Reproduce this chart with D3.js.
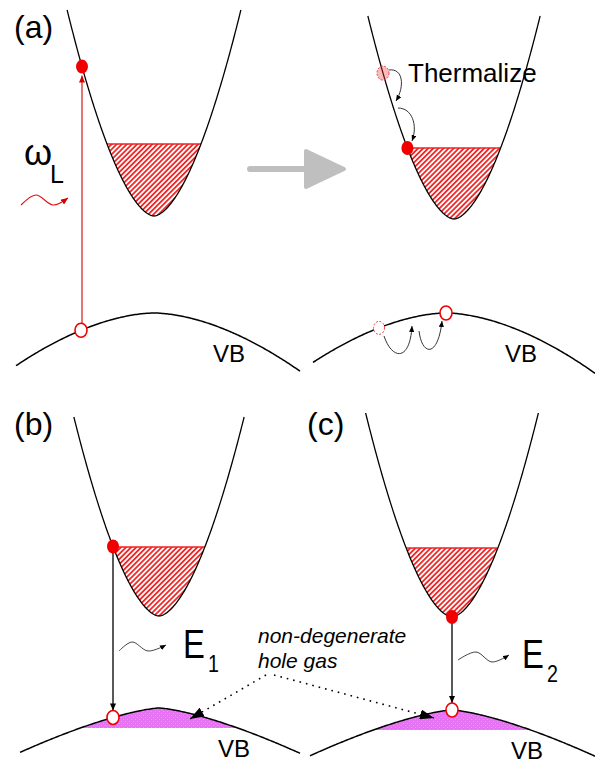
<!DOCTYPE html>
<html>
<head>
<meta charset="utf-8">
<script src="https://cdn.jsdelivr.net/npm/d3@7"></script>
<style>
  body { margin: 0; background: #fff; }
  text { font-family: "Liberation Sans", Arial, sans-serif; }
</style>
</head>
<body>
<div id="chart"></div>
<script>
// Band diagram values: energy with VB maximum = 0, momentum k in arbitrary units
const panelIds   = ['a1', 'a2', 'b', 'c'];
const bandGap    = [0.97, 0.94, 0.92, 0.93];
const cbTopE     = [3.03, 2.97, 2.91, 2.97];
const fermiFill  = [0.72, 0.71, 0.69, 0.69];      // electron fill above CB minimum
const vbKRange   = [[-1.38, 1.46], [-1.33, 1.49], [-1.39, 1.41], [-1.42, 1.43]];
const vbShiftK   = [0, -0.08, 0, 0];
const vbCurv     = [0.30, 0.30, 0.28, 0.28];
const vbPow      = [1.75, 1.75, 1.4, 1.4];
const holeFill   = [0, 0, 0.20, 0.20];            // hole gas depth below VB max
const electronK  = [-0.72, -0.466, -0.46, 0];
const holeK      = [-0.73, 0, -0.46, 0];           // relative to VB peak
const ghostElectronK = -0.71;                      // panel a2, before thermalizing
const ghostHoleK     = -0.67;
const cbCurv = 2.62, cbPow = 1.71;

// panel placement
const layout = {
    a1: { cx: 154, vbTop: 313 },
    a2: { cx: 454, vbTop: 313 },
    b:  { cx: 159, vbTop: 708 },
    c:  { cx: 452, vbTop: 710 }
};

const width = 595, height = 763;
const svg = d3.select('#chart').append('svg')
    .attr('width', width)
    .attr('height', height);

const defs = svg.append('defs');

// red hatch for electrons
const hatch = defs.append('pattern')
    .attr('id', 'hatch')
    .attr('patternUnits', 'userSpaceOnUse')
    .attr('width', 3.6).attr('height', 10)
    .attr('patternTransform', 'rotate(45)');
hatch.append('rect').attr('width', 3.6).attr('height', 10).attr('fill', '#fff');
hatch.append('line')
    .attr('x1', 0.9).attr('x2', 0.9).attr('y1', 0).attr('y2', 10)
    .attr('stroke', '#f02828').attr('stroke-width', 1.8);

// magenta background with cyan dots for holes
const checker = defs.append('pattern')
    .attr('id', 'checker')
    .attr('patternUnits', 'userSpaceOnUse')
    .attr('width', 4).attr('height', 4);
checker.append('rect').attr('width', 4).attr('height', 4).attr('fill', '#e672f4');
checker.append('rect').attr('x', 1).attr('y', 1).attr('width', 1).attr('height', 1).attr('fill', '#30f4f8');
checker.append('rect').attr('x', 3).attr('y', 3).attr('width', 1).attr('height', 1).attr('fill', '#30f4f8');

function marker(id, color, len, w) {
    defs.append('marker')
        .attr('id', id)
        .attr('markerUnits', 'userSpaceOnUse')
        .attr('viewBox', `0 ${-w} ${len} ${2 * w}`)
        .attr('refX', len).attr('refY', 0)
        .attr('markerWidth', len).attr('markerHeight', 2 * w)
        .attr('orient', 'auto')
        .append('path')
        .attr('d', `M0,${-w}L${len},0L0,${w}Z`)
        .attr('fill', color);
}
marker('arrRed', '#d40000', 7, 3);
marker('arrBlack', '#000', 7, 3);
marker('arrSmall', '#000', 6, 2.6);
marker('arrBig', '#000', 14, 5);

const line = d3.line().x(d => d[0]).y(d => d[1]);

panelIds.forEach((id, i) => {
    const L = layout[id];
    const x = d3.scaleLinear().domain([-1, 1]).range([L.cx - 100, L.cx + 100]);
    const y = d3.scaleLinear().domain([0, 1]).range([L.vbTop, L.vbTop - 100]);
    const g = svg.append('g').attr('class', 'panel-' + id);

    const cb = k => bandGap[i] + cbCurv * Math.pow(Math.abs(k), cbPow);
    const vb = k => -vbCurv[i] * Math.pow(Math.abs(k - vbShiftK[i]), vbPow[i]);

    // electron fill
    const kf = Math.pow(fermiFill[i] / cbCurv, 1 / cbPow);
    const ef = bandGap[i] + fermiFill[i];
    const fillPts = d3.range(-kf, kf + 1e-9, kf / 60).map(k => [x(k), y(cb(k))]);
    g.append('path')
        .attr('d', line(fillPts) + 'Z')
        .attr('fill', 'url(#hatch)');
    g.append('line')
        .attr('x1', x(-kf)).attr('x2', x(kf))
        .attr('y1', y(ef)).attr('y2', y(ef))
        .attr('stroke', '#f02020').attr('stroke-width', 1.6);

    // conduction band
    const kmax = Math.pow((cbTopE[i] - bandGap[i]) / cbCurv, 1 / cbPow);
    const cbPts = d3.range(-kmax, kmax + 1e-9, kmax / 120).map(k => [x(k), y(cb(k))]);
    g.append('path')
        .attr('d', line(cbPts))
        .attr('fill', 'none').attr('stroke', '#000').attr('stroke-width', 1.3);

    // hole gas
    if (holeFill[i] > 0) {
        const kh = Math.pow(holeFill[i] / vbCurv[i], 1 / vbPow[i]);
        const s = vbShiftK[i];
        const hPts = d3.range(s - kh, s + kh + 1e-9, kh / 60).map(k => [x(k), y(vb(k))]);
        g.append('path')
            .attr('d', line(hPts) + 'Z')
            .attr('fill', 'url(#checker)');
    }

    // valence band
    const [k0, k1] = vbKRange[i];
    const s = vbShiftK[i];
    const vbPts = d3.range(s + k0, s + k1 + 1e-9, (k1 - k0) / 200).map(k => [x(k), y(vb(k))]);
    g.append('path')
        .attr('d', line(vbPts))
        .attr('fill', 'none').attr('stroke', '#000').attr('stroke-width', 1.5);

    g.append('text')
        .attr('x', x(s + 0.59)).attr('y', L.vbTop + 49)
        .attr('font-size', 24)
        .text('VB');

    const ex = x(electronK[i]), ey = y(cb(electronK[i]));
    const hk = s + holeK[i];
    const hx = x(hk), hy = y(vb(hk));

    // transitions
    if (id === 'a1') {
        g.append('line')
            .attr('x1', ex).attr('x2', ex)
            .attr('y1', hy - 7).attr('y2', ey + 9)
            .attr('stroke', '#d40000').attr('stroke-width', 1.1)
            .attr('marker-end', 'url(#arrRed)');
    } else if (id === 'b' || id === 'c') {
        g.append('line')
            .attr('x1', ex).attr('x2', ex)
            .attr('y1', ey + 6).attr('y2', hy - 7)
            .attr('stroke', '#000').attr('stroke-width', 1.3)
            .attr('marker-end', 'url(#arrBlack)');
    }

    if (id === 'a2') {
        const gk = ghostElectronK;
        g.append('ellipse')
            .attr('cx', x(gk)).attr('cy', y(cb(gk)))
            .attr('rx', 6).attr('ry', 7)
            .attr('fill', 'rgba(240,60,60,0.35)')
            .attr('stroke', '#f04040').attr('stroke-width', 1)
            .attr('stroke-dasharray', '2,1.5');
        const hg = s + ghostHoleK;
        g.append('ellipse')
            .attr('cx', x(hg)).attr('cy', y(vb(hg)))
            .attr('rx', 5.5).attr('ry', 6.5)
            .attr('fill', '#fff')
            .attr('stroke', '#f04040').attr('stroke-width', 1)
            .attr('stroke-dasharray', '2,1.5');
    }

    // hole (open) and electron (filled)
    g.append('ellipse')
        .attr('cx', hx).attr('cy', hy)
        .attr('rx', 6).attr('ry', 7)
        .attr('fill', '#fff').attr('stroke', '#f00000').attr('stroke-width', 1.6);
    g.append('ellipse')
        .attr('cx', ex).attr('cy', ey)
        .attr('rx', 6).attr('ry', 7)
        .attr('fill', '#f00000');
});

// panel labels
const labels = [
    { t: '(a)', x: 14, y: 38 },
    { t: '(b)', x: 14, y: 435 },
    { t: '(c)', x: 307, y: 435 }
];
svg.selectAll('.plabel').data(labels).enter().append('text')
    .attr('class', 'plabel')
    .attr('x', d => d.x).attr('y', d => d.y)
    .attr('font-size', 32)
    .text(d => d.t);

// gray process arrow
svg.append('line')
    .attr('x1', 250).attr('x2', 306).attr('y1', 169).attr('y2', 169)
    .attr('stroke', '#bfbfbf').attr('stroke-width', 6).attr('stroke-linecap', 'round');
svg.append('path')
    .attr('d', 'M306,151L344,169L306,187Z')
    .attr('fill', '#bfbfbf').attr('stroke', '#bfbfbf')
    .attr('stroke-width', 4).attr('stroke-linejoin', 'round');

// photon omega_L
svg.append('text').attr('x', 24).attr('y', 165).attr('font-size', 36).text('\u03c9');
svg.append('text').attr('x', 50).attr('y', 183).attr('font-size', 25).text('L');
const wavy = d3.line().curve(d3.curveCatmullRom);
svg.append('path')
    .attr('d', wavy([[21, 205], [36, 195], [53, 205], [68, 198]]))
    .attr('fill', 'none').attr('stroke', '#e01010').attr('stroke-width', 1.1)
    .attr('marker-end', 'url(#arrRed)');

// emitted photons
svg.append('path')
    .attr('d', wavy([[119, 651], [132, 642], [148, 651], [166, 645]]))
    .attr('fill', 'none').attr('stroke', '#444').attr('stroke-width', 1)
    .attr('marker-end', 'url(#arrSmall)');
svg.append('path')
    .attr('d', wavy([[458, 660], [476, 652], [492, 662], [509, 655]]))
    .attr('fill', 'none').attr('stroke', '#444').attr('stroke-width', 1)
    .attr('marker-end', 'url(#arrSmall)');

const eLabels = [
    { main: 'E', sub: '1', x: 183, y: 658 },
    { main: 'E', sub: '2', x: 522, y: 668 }
];
eLabels.forEach(d => {
    svg.append('text')
        .attr('transform', `translate(${d.x},${d.y}) scale(0.82,1)`)
        .attr('font-size', 40).text(d.main);
    svg.append('text')
        .attr('transform', `translate(${d.x + 25},${d.y + 14}) scale(0.82,1)`)
        .attr('font-size', 24).text(d.sub);
});

// thermalization
svg.append('text').attr('x', 408).attr('y', 82).attr('font-size', 26).text('Thermalize');
const curlies = [
    'M389,70 C403,68 405,86 396,101',
    'M398,108 C412,108 418,125 412,141',
    'M384,336 C392,360 410,362 412,326',
    'M419,331 C422,356 438,358 442,321'
];
svg.selectAll('.curly').data(curlies).enter().append('path')
    .attr('class', 'curly')
    .attr('d', d => d)
    .attr('fill', 'none').attr('stroke', '#333').attr('stroke-width', 1)
    .attr('marker-end', 'url(#arrSmall)');

// hole gas annotation
svg.append('text').attr('x', 258).attr('y', 643)
    .attr('font-size', 21).attr('font-style', 'italic').text('non-degenerate');
svg.append('text').attr('x', 258).attr('y', 668)
    .attr('font-size', 21).attr('font-style', 'italic').text('hole gas');
const dotted = [
    [[266, 675], [190, 719]],
    [[274, 675], [434, 718]]
];
svg.selectAll('.dotted').data(dotted).enter().append('path')
    .attr('class', 'dotted')
    .attr('d', d => line(d))
    .attr('fill', 'none').attr('stroke', '#000').attr('stroke-width', 1.6)
    .attr('stroke-dasharray', '1.6,5')
    .attr('marker-end', 'url(#arrBig)');
</script>
</body>
</html>
